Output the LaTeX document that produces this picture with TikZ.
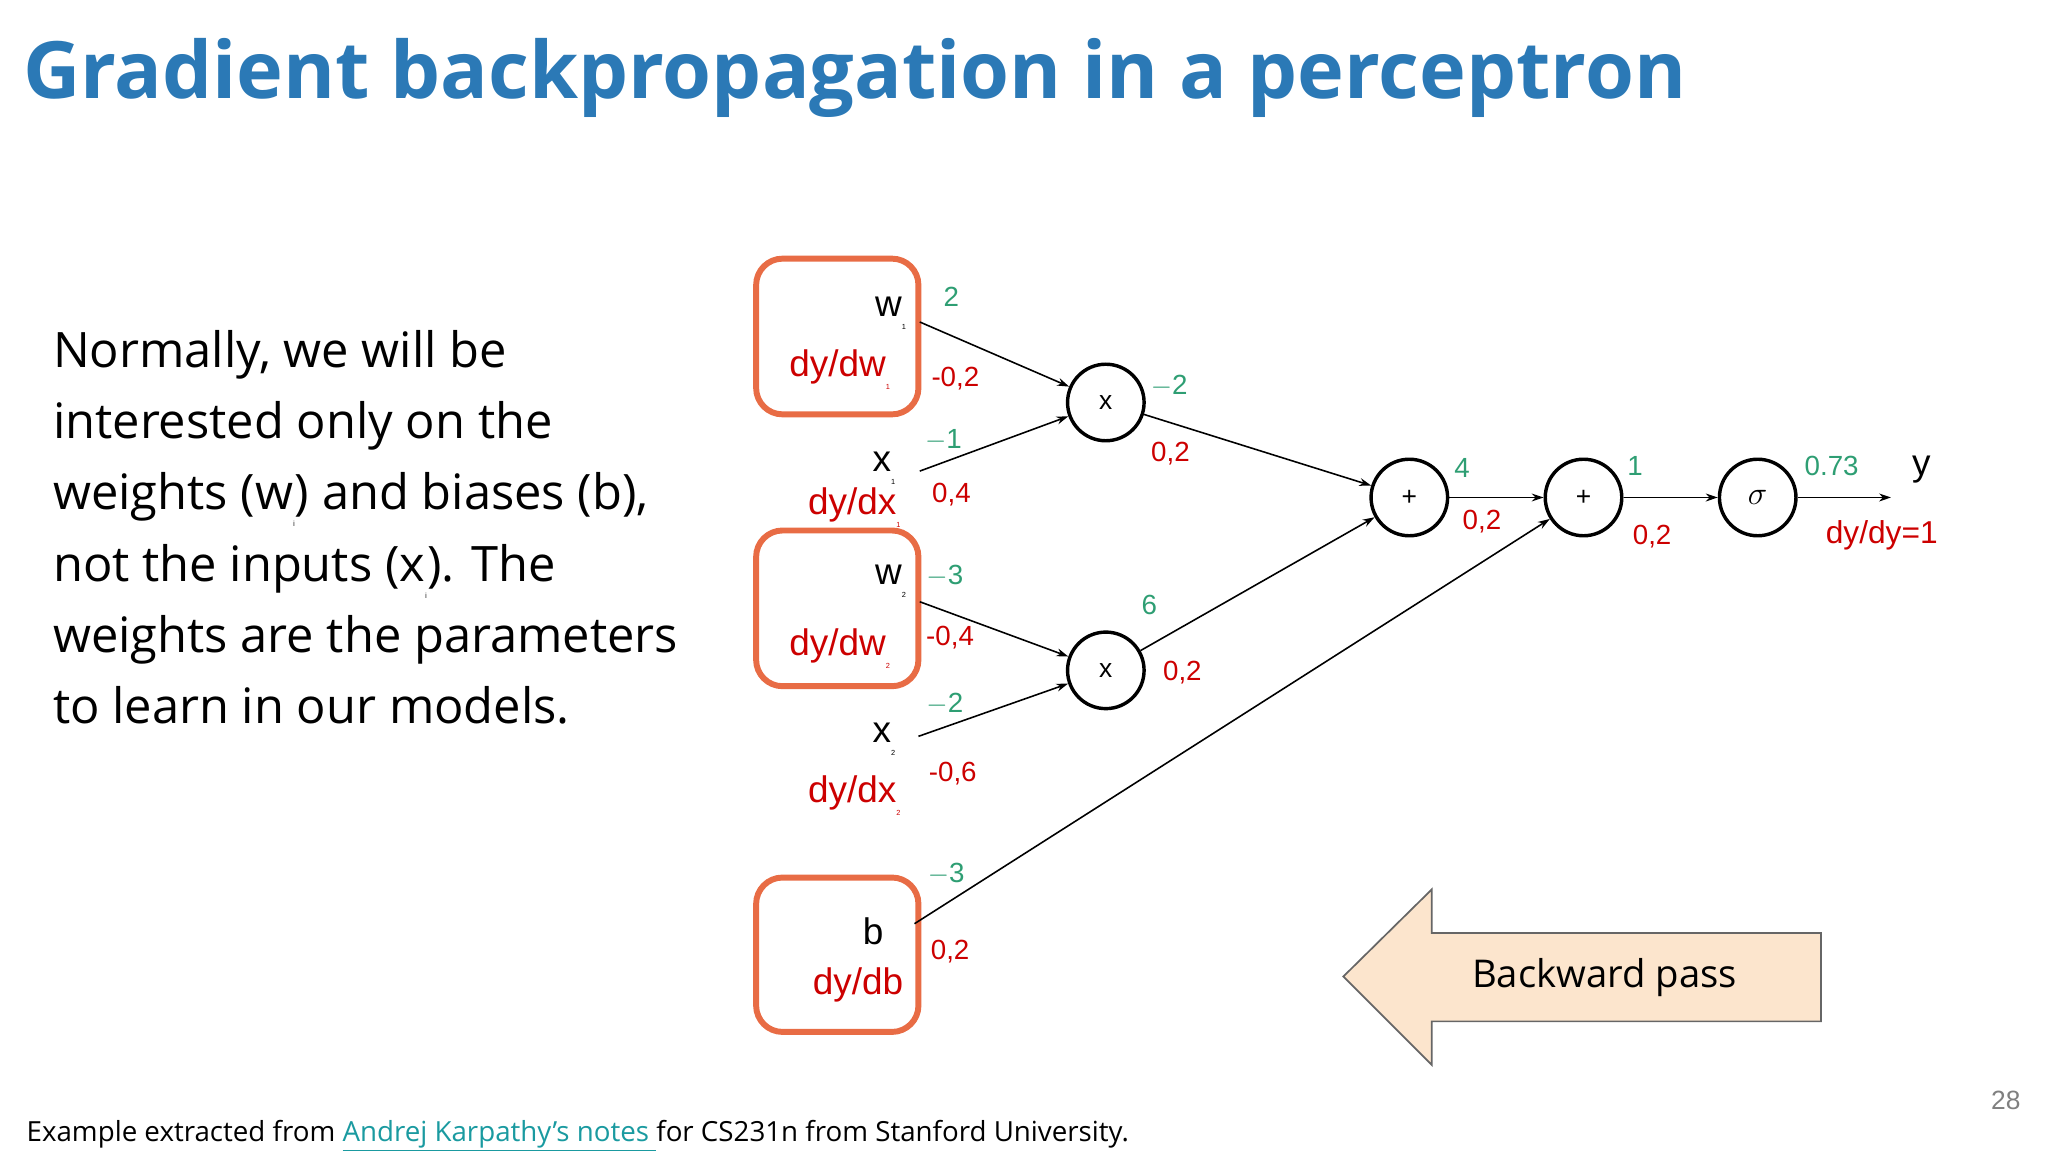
\documentclass[tikz,border=0pt]{standalone}
\usepackage{fontspec}
\setmainfont{Open Sans}
\newfontfamily\arial{Liberation Sans}
\usetikzlibrary{arrows.meta}
\definecolor{ttl}{HTML}{2B79B6}
\definecolor{org}{HTML}{E86C45}
\definecolor{grn}{HTML}{2E9E73}
\definecolor{rd}{HTML}{CC0000}
\definecolor{lnk}{HTML}{1A9AA0}
\definecolor{peach}{HTML}{FCE5CD}
\newcommand{\sbs}[1]{\raisebox{-0.35em}{\footnotesize\fontsize{0.7em}{0.7em}\selectfont #1}}
\begin{document}
\begin{tikzpicture}[x=1pt,y=-1pt,
  pbox/.style={draw=org,line width=4.5pt,rounded corners=20pt},
  op/.style={circle,draw,line width=2.6pt,minimum size=58pt,inner sep=0pt,font=\arial\fontsize{20}{20}\selectfont},
  edge/.style={-{Stealth[length=9pt,width=6pt]},line width=1.2pt},
  gl/.style={text=grn,font=\arial\fontsize{21}{21}\selectfont},
  rl/.style={text=rd,font=\arial\fontsize{21}{21}\selectfont},
  vn/.style={font=\arial\fontsize{28}{28}\selectfont},
  rn/.style={text=rd,font=\arial\fontsize{28}{28}\selectfont}]
\useasboundingbox (0,0) rectangle (1552,873);
\node[anchor=base west,text=ttl,font=\fontsize{60}{60}\selectfont\bfseries] (title) at (14,75) {Gradient backpropagation in a perceptron};
\node[anchor=north west,align=left,inner sep=0pt,font=\fontsize{37}{54}\selectfont] (para) at (40,250) {Normally, we will be\\interested only on the\\weights (w\sbs{i}) and biases (b),\\not the inputs (x\sbs{i}). The\\weights are the parameters\\to learn in our models.};
% boxes
\draw[pbox] (573,196) rectangle (696,314);
\draw[pbox] (573,402) rectangle (696,520);
\draw[pbox] (573,665) rectangle (696,782);
% variable names
\node[vn,anchor=base east] (w1) at (690,240) {w\sbs{1}};
\node[rn,anchor=base east] (dw1) at (678,285) {dy/dw\sbs{1}};
\node[vn,anchor=base east] (x1) at (682,357) {x\sbs{1}};
\node[rn,anchor=base east] (dx1) at (686,390) {dy/dx\sbs{1}};
\node[vn,anchor=base east] (w2) at (690,443) {w\sbs{2}};
\node[rn,anchor=base east] (dw2) at (678,497) {dy/dw\sbs{2}};
\node[vn,anchor=base east] (x2) at (682,563) {x\sbs{2}};
\node[rn,anchor=base east] (dx2) at (686,608) {dy/dx\sbs{2}};
\node[vn,anchor=base east] (b) at (673,716) {b};
\node[rn,anchor=base east] (db) at (688,754) {dy/db};
% ops
\node[op] (m1) at (838,305) {x};
\node[op] (m2) at (838,508) {x};
\node[op] (a1) at (1068,377) {+};
\node[op] (a2) at (1200,377) {+};
\node[op,font=\fontsize{26}{26}\selectfont] (s) at (1332,377) {$\sigma$};
\coordinate (pw1) at (697,244);
\coordinate (px1) at (697,357);
\coordinate (pw2) at (697,456);
\coordinate (px2) at (696,558);
\coordinate (pb) at (693,700);
\coordinate (out) at (1433,377);
\draw[edge] (pw1) -- (m1);
\draw[edge] (px1) -- (m1);
\draw[edge] (pw2) -- (m2);
\draw[edge] (px2) -- (m2);
\draw[edge] (pb) -- (a2);
\draw[edge] (m1) -- (a1);
\draw[edge] (m2) -- (a1);
\draw[edge] (a1) -- (a2);
\draw[edge] (a2) -- (s);
\draw[edge] (s) -- (out);
\node[vn,anchor=base] (y) at (1456,360) {y};
\node[rl,anchor=base,font=\arial\fontsize{24}{24}\selectfont] (dy) at (1426,412) {dy/dy=1};
% green labels
\node[gl,anchor=base] at (721,232) {2};
\node[gl,anchor=base] at (715,340) {$-$1};
\node[gl,anchor=base] at (716,443) {$-$3};
\node[gl,anchor=base] at (716,540) {$-$2};
\node[gl,anchor=base] at (717,669) {$-$3};
\node[gl,anchor=base] at (886,299) {$-$2};
\node[gl,anchor=base] at (871,466) {6};
\node[gl,anchor=base] at (1108,362) {4};
\node[gl,anchor=base] at (1239,360) {1};
\node[gl,anchor=base] at (1388,360) {0.73};
% red labels
\node[rl,anchor=base] at (724,293) {-0,2};
\node[rl,anchor=base] at (721,381) {0,4};
\node[rl,anchor=base] at (720,489) {-0,4};
\node[rl,anchor=base] at (722,592) {-0,6};
\node[rl,anchor=base] at (720,727) {0,2};
\node[rl,anchor=base] at (887,350) {0,2};
\node[rl,anchor=base] at (896,516) {0,2};
\node[rl,anchor=base] at (1123,401) {0,2};
\node[rl,anchor=base] at (1252,413) {0,2};
% backward arrow
\draw[draw=gray!80!black,line width=1.3pt,fill=peach] (1018,740) -- (1085,674) -- (1085,707) -- (1380,707) -- (1380,774) -- (1085,774) -- (1085,807) -- cycle;
\node[font=\fontsize{29}{29}\selectfont] (bp) at (1216,741) {Backward pass};
% footer
\node[anchor=base west,inner sep=0pt,font=\fontsize{21}{21}\selectfont] (foot) at (20,865) {Example extracted from \textcolor{lnk}{\underline{Andrej Karpathy’s notes }}for CS231n from Stanford University.};
\node[anchor=base,text=gray,font=\arial\fontsize{20}{20}\selectfont] (pg) at (1520,841) {28};
\end{tikzpicture}
\end{document}
